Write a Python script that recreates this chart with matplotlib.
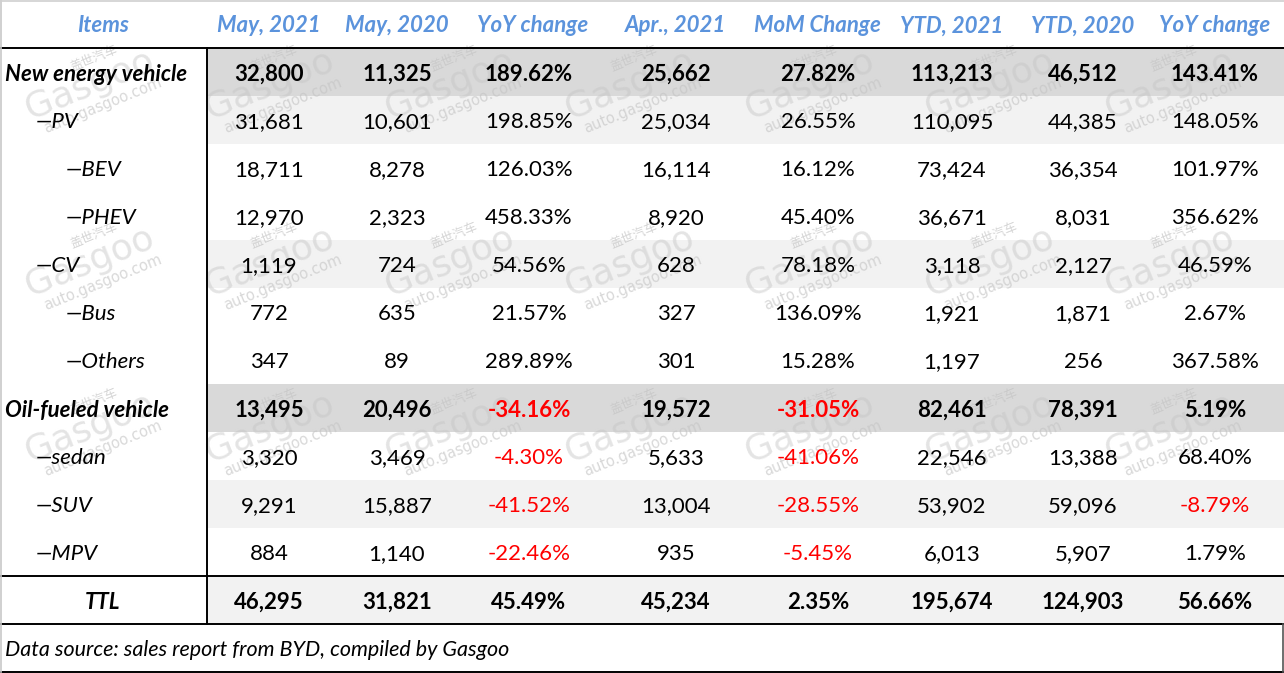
import numpy as np
import matplotlib
matplotlib.use("Agg")
import matplotlib.pyplot as plt
from matplotlib.patches import Rectangle

# ---------------- data ----------------
headers = ["Items", "May, 2021", "May, 2020", "YoY change", "Apr., 2021",
           "MoM Change", "YTD, 2021", "YTD, 2020", "YoY change"]
items = ["New energy vehicle", "—PV", "—BEV", "—PHEV", "—CV", "—Bus", "—Others",
         "Oil-fueled vehicle", "—sedan", "—SUV", "—MPV", "TTL"]
levels = [0, 1, 2, 2, 1, 2, 2, 0, 1, 1, 1, -1]
may21 = [32800, 31681, 18711, 12970, 1119, 772, 347, 13495, 3320, 9291, 884, 46295]
may20 = [11325, 10601, 8278, 2323, 724, 635, 89, 20496, 3469, 15887, 1140, 31821]
yoy_may = [189.62, 198.85, 126.03, 458.33, 54.56, 21.57, 289.89, -34.16, -4.30, -41.52, -22.46, 45.49]
apr21 = [25662, 25034, 16114, 8920, 628, 327, 301, 19572, 5633, 13004, 935, 45234]
mom = [27.82, 26.55, 16.12, 45.40, 78.18, 136.09, 15.28, -31.05, -41.06, -28.55, -5.45, 2.35]
ytd21 = [113213, 110095, 73424, 36671, 3118, 1921, 1197, 82461, 22546, 53902, 6013, 195674]
ytd20 = [46512, 44385, 36354, 8031, 2127, 1871, 256, 78391, 13388, 59096, 5907, 124903]
yoy_ytd = [143.41, 148.05, 101.97, 356.62, 46.59, 2.67, 367.58, 5.19, 68.40, -8.79, 1.79, 56.66]
bold_rows = [0, 7, 11]
row_fill = ["dark", "light", "white", "white", "light", "white", "white",
            "dark", "white", "light", "white", "light"]
footnote = "Data source: sales report from BYD, compiled by Gasgoo"

# ---------------- layout ----------------
W, H = 1284, 673
FONT = ["Lato", "DejaVu Sans"]
FS = 16
HEADER_COLOR = "#5B93DC"
fills = {"dark": "#D9D9D9", "light": "#F2F2F2", "white": "#FFFFFF"}

fig = plt.figure(figsize=(W / 100, H / 100), dpi=100)
ax = fig.add_axes([0, 0, 1, 1])
ax.set_xlim(0, W)
ax.set_ylim(H, 0)
ax.axis("off")

row_h = 48
top0 = 48
split_x = 207
dy = 2.5
col_centers = [269, 397, 529, 676, 818, 952, 1083, 1215]
head_centers = [269, 397, 533, 676, 817, 952, 1083, 1215]

# row backgrounds
for i, f in enumerate(row_fill):
    if f != "white":
        ax.add_patch(Rectangle((split_x, top0 + i * row_h), W - split_x, row_h,
                               facecolor=fills[f], edgecolor="none", zorder=0))

# watermarks
theta = np.deg2rad(22)
u = np.array([np.cos(theta), -np.sin(theta)])
up = np.array([-np.sin(theta), -np.cos(theta)])
wm_color = "#C4C4C4"
for cy in [85, 262, 428]:
    for k in range(7):
        c = np.array([90 + 180 * k, cy])
        p1 = c + u * 14 + up * 23
        ax.text(*p1, "盖世汽车", rotation=22, ha="center", va="center", fontsize=9,
                color=wm_color, alpha=0.7, family=["Noto Sans CJK SC"], zorder=1)
        ax.text(*c, "Gasgoo", rotation=22, ha="center", va="center", fontsize=26,
                color=wm_color, alpha=0.45, family=["DejaVu Sans"], zorder=1)
        p3 = c - up * 24 + u * 4
        ax.text(*p3, "auto.gasgoo.com", rotation=22, ha="center", va="center",
                fontsize=10.5, color=wm_color, alpha=0.65, family=["DejaVu Sans"],
                zorder=1)

# header
ax.text(103, 26, headers[0], ha="center", va="center", fontsize=FS, color=HEADER_COLOR,
        fontweight="bold", fontstyle="italic", family=FONT, zorder=3)
for j, h in enumerate(headers[1:]):
    ax.text(head_centers[j], 26, h, ha="center", va="center", fontsize=FS,
            color=HEADER_COLOR, fontweight="bold", fontstyle="italic", family=FONT, zorder=3)

# body
cols = [may21, may20, yoy_may, apr21, mom, ytd21, ytd20, yoy_ytd]
is_pct = [False, False, True, False, True, False, False, True]
indent_x = {0: 5, 1: 36, 2: 66}
for i, name in enumerate(items):
    yc = top0 + i * row_h + row_h / 2 + dy
    bold = i in bold_rows
    if levels[i] < 0:
        ax.text(103, yc, name, ha="center", va="center", fontsize=FS, fontweight="bold",
                fontstyle="italic", family=FONT, color="black", zorder=3)
    else:
        ax.text(indent_x[levels[i]], yc, name, ha="left", va="center", fontsize=FS,
                fontweight="bold" if bold else "normal", fontstyle="italic",
                family=FONT, color="black", zorder=3)
    for j, col in enumerate(cols):
        v = col[i]
        if is_pct[j]:
            s = f"{v:.2f}%"
            color = "#FF0000" if v < 0 else "black"
        else:
            s = f"{v:,}"
            color = "black"
        ax.text(col_centers[j], yc, s, ha="center", va="center", fontsize=FS,
                fontweight="bold" if bold else "normal", family=FONT, color=color, zorder=3)

# footnote
foot_y = top0 + len(items) * row_h
ax.text(5, foot_y + 24 + dy, footnote, ha="left", va="center", fontsize=FS - 0.5,
        fontstyle="italic", family=FONT, color="black", zorder=3)

# lines
lw = 1.4
ax.plot([0, W], [top0, top0], color="black", lw=lw, zorder=4)
ax.plot([split_x, split_x], [top0, foot_y], color="black", lw=lw, zorder=4)
ax.plot([0, W], [foot_y - row_h, foot_y - row_h], color="black", lw=lw, zorder=4)
ax.plot([0, W], [foot_y, foot_y], color="black", lw=lw, zorder=4)
ax.plot([0, W], [foot_y + row_h, foot_y + row_h], color="black", lw=lw, zorder=4)
ax.plot([W - 1.5, W - 1.5], [foot_y, foot_y + row_h], color="#555555", lw=1.2, zorder=4)
ax.plot([0.8, 0.8], [0, foot_y + row_h], color="#C8C8C8", lw=1.2, zorder=4)
ax.plot([0, W], [0.8, 0.8], color="#D0D0D0", lw=1.2, zorder=4)

fig.savefig("out.png", dpi=100, facecolor="white")
